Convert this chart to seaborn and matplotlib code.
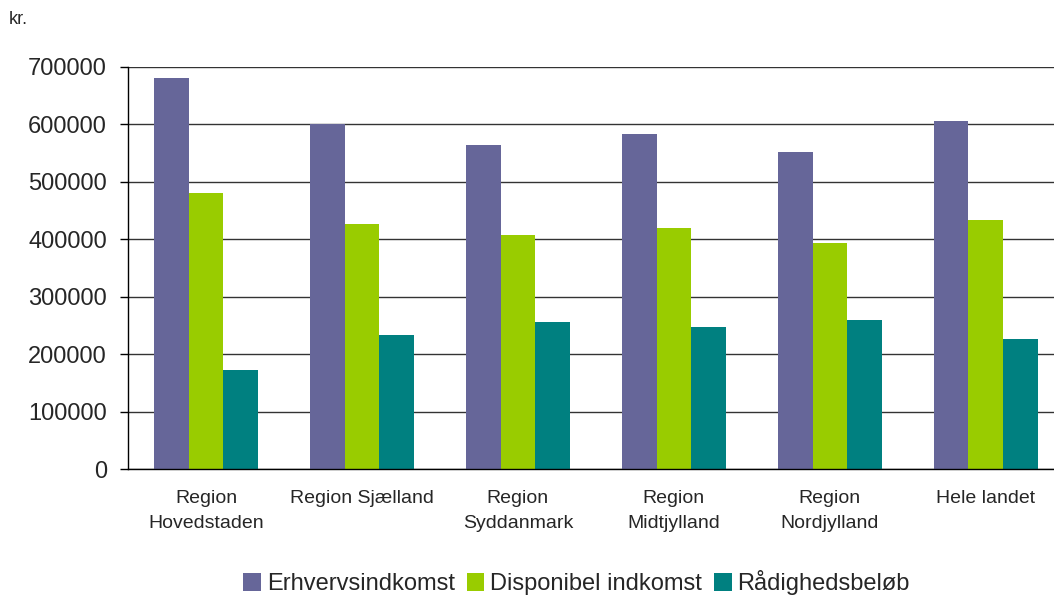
import pandas as pd
import matplotlib.pyplot as plt
import seaborn as sns

# === DATA ===
regions = ["Region\nHovedstaden", "Region Sjælland", "Region\nSyddanmark",
           "Region\nMidtjylland", "Region\nNordjylland", "Hele landet"]
series = ["Erhvervsindkomst", "Disponibel indkomst", "Rådighedsbeløb"]
erhverv = [681000, 601000, 564000, 583000, 552000, 606000]
disponibel = [481000, 427000, 407000, 420000, 394000, 434000]
raadighed = [173000, 234000, 256000, 248000, 259000, 227000]
colors = ["#666699", "#99CC00", "#008080"]
yticks = [0, 100000, 200000, 300000, 400000, 500000, 600000, 700000]

rows = []
for name, vals in zip(series, [erhverv, disponibel, raadighed]):
    for reg, v in zip(regions, vals):
        rows.append({"region": reg, "serie": name, "kr": v})
df = pd.DataFrame(rows)

# === PLOT ===
sns.set_theme(style="white")
plt.rcParams["font.family"] = ["Liberation Sans", "DejaVu Sans"]

fig = plt.figure(figsize=(10.54, 5.97), dpi=100)
ax = fig.add_axes([0.1214, 0.2144, 0.888, 0.6734])

sns.barplot(data=df, x="region", y="kr", hue="serie", palette=colors,
            width=0.67, gap=0, saturation=1, linewidth=0, ax=ax, legend=True)

ax.set_ylim(0, 700000)
ax.set_xlim(-0.5, 5.5)
ax.set_yticks(yticks)
ax.set_yticklabels([str(t) for t in yticks], fontsize=17)
ax.yaxis.grid(True, color="#333333", linewidth=1)
ax.set_axisbelow(True)
ax.set_xlabel("")
ax.set_ylabel("")

ax.set_xticks(range(len(regions)))
ax.set_xticklabels(regions, fontsize=14, linespacing=1.65)
ax.set_xticks([i - 0.5 for i in range(len(regions) + 1)], minor=True)
ax.tick_params(axis="x", which="major", length=0, pad=15)
ax.tick_params(axis="x", which="minor", length=5, width=1, color="black", direction="out")
ax.tick_params(axis="y", length=6, width=1, color="black", direction="out", pad=9, left=True)

for s in ["top", "right"]:
    ax.spines[s].set_visible(False)
ax.spines["left"].set_color("black")
ax.spines["bottom"].set_color("black")
ax.spines["left"].set_linewidth(1)
ax.spines["bottom"].set_linewidth(1)

ax.legend_.remove()
handles, labels = ax.get_legend_handles_labels()
fig.legend(handles, labels, loc="center", bbox_to_anchor=(0.547, 0.024), ncol=3,
           frameon=False, fontsize=17, handlelength=0.75, handleheight=0.75,
           handletextpad=0.25, columnspacing=0.5, borderaxespad=0)

fig.text(0.008, 0.968, "kr.", fontsize=13, ha="left", va="center")

fig.savefig("out.png", dpi=100)
